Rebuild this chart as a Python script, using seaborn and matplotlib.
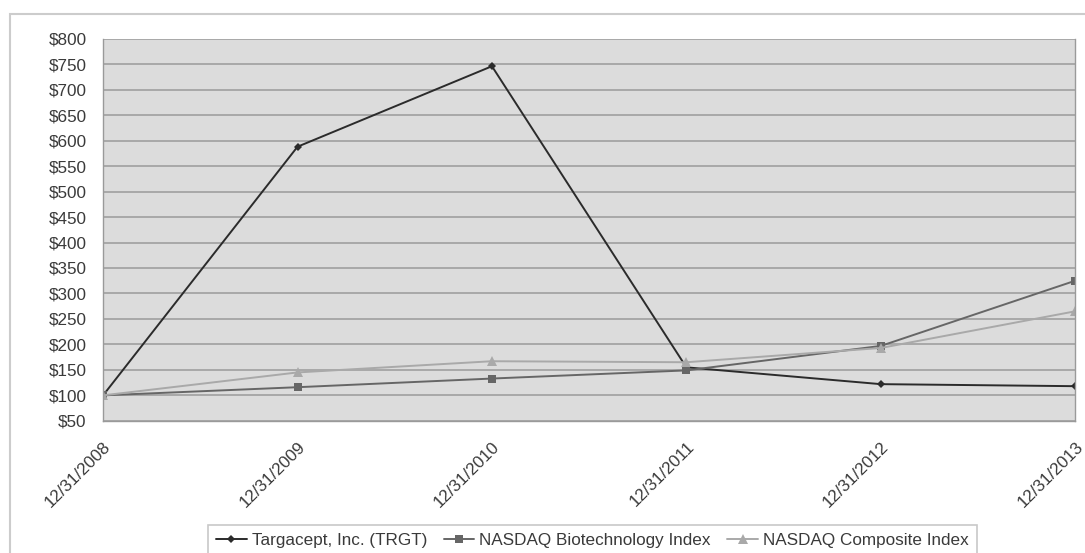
import pandas as pd
import matplotlib.pyplot as plt
import seaborn as sns
from matplotlib.patches import Rectangle

# values
dates = ['12/31/2008', '12/31/2009', '12/31/2010', '12/31/2011', '12/31/2012', '12/31/2013']
trgt = [100, 588, 746, 155, 122, 118]
biotech = [100, 116, 133, 149, 197, 325]
composite = [100, 145, 167, 165, 193, 265]
series_names = ['Targacept, Inc. (TRGT)', 'NASDAQ Biotechnology Index', 'NASDAQ Composite Index']
y_ticks = list(range(50, 801, 50))

df = pd.DataFrame({
    'Date': dates * 3,
    'Value': trgt + biotech + composite,
    'Series': [n for n in series_names for _ in dates],
})

sns.set_style('white')
plt.rcParams['font.family'] = ['Liberation Sans', 'DejaVu Sans']

fig = plt.figure(figsize=(10.85, 5.53), dpi=100)
ax = fig.add_axes([0.095, 0.239, 0.896, 0.691])

palette = {series_names[0]: '#2b2b2b', series_names[1]: '#666666', series_names[2]: '#a9a9a9'}
markers = {series_names[0]: 'D', series_names[1]: 's', series_names[2]: '^'}
sizes = {series_names[0]: 4.5, series_names[1]: 6, series_names[2]: 6.5}

for name in series_names:
    sub = df[df['Series'] == name]
    sns.lineplot(data=sub, x='Date', y='Value', ax=ax, color=palette[name],
                 marker=markers[name], markersize=sizes[name], markeredgewidth=0,
                 linewidth=1.4, label=name, sort=False)

fs = 12.3
ax.set_facecolor('#dcdcdc')
ax.set_xlim(0, len(dates) - 1)
ax.set_ylim(50, 800)
ax.set_yticks(y_ticks)
ax.set_yticklabels([f'${v}' for v in y_ticks], fontsize=fs, color='#3a3a3a')
ax.set_xticks(range(len(dates)))
ax.set_xticklabels(dates, rotation=45, ha='right', rotation_mode='anchor', fontsize=fs, color='#3a3a3a')
ax.yaxis.grid(True, color='#9a9a9a', linewidth=1.1)
ax.xaxis.grid(False)
ax.set_axisbelow(True)
ax.tick_params(axis='y', direction='out', length=5, color='#999999', pad=7)
ax.tick_params(axis='x', direction='inout', length=10, color='#999999', pad=8)
ax.set_xlabel('')
ax.set_ylabel('')
for side in ['left', 'right', 'bottom']:
    ax.spines[side].set_color('#9a9a9a')
    ax.spines[side].set_linewidth(1.0)
ax.spines['top'].set_visible(False)

leg = ax.legend(loc='upper center', bbox_to_anchor=(0.546, 0.051), bbox_transform=fig.transFigure,
                ncol=3, frameon=True, fancybox=False, fontsize=fs, handlelength=1.8,
                columnspacing=0.95, handletextpad=0.3, borderpad=0.5, borderaxespad=0)
leg.get_frame().set_edgecolor('#bbbbbb')
leg.get_frame().set_linewidth(1.2)
for t in leg.get_texts():
    t.set_color('#3a3a3a')

# outer chart frame (open on the right, runs off the bottom)
fig.patches.append(Rectangle((0.009, -0.05), 1.05, 1.025, transform=fig.transFigure,
                             fill=False, edgecolor='#cccccc', linewidth=1.5))

fig.savefig('out.png', dpi=100)
